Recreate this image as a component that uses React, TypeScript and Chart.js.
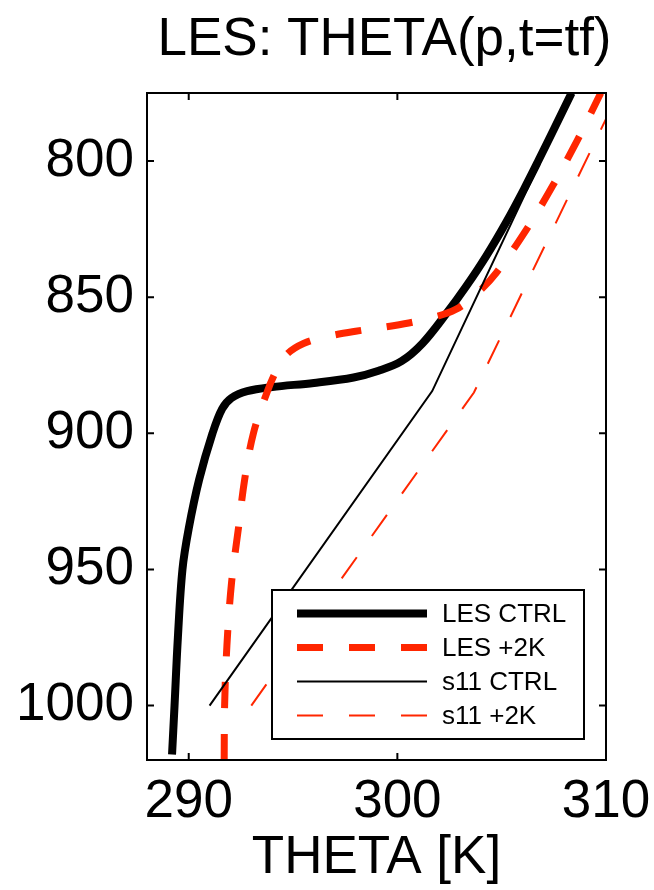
import { useEffect, useRef } from "react";
import { Chart, registerables } from "chart.js";

Chart.register(...registerables);

// Potential temperature profiles at the final time (pressure in hPa, theta in K)
const pressureLesCtrl = [1018, 1000, 975, 950, 935, 917, 900, 891, 887, 884.5, 883, 881.5, 879.5, 877, 873.5, 867, 856, 846, 835, 822, 810, 800, 788, 775];
const thetaLesCtrl = [289.2, 289.32, 289.48, 289.7, 290.0, 290.5, 291.14, 291.6, 292.05, 292.8, 294.0, 296.0, 297.9, 299.1, 300.2, 301.2, 302.35, 303.3, 304.25, 305.25, 306.09, 306.75, 307.52, 308.35];

const pressureLesWarm = [1020, 1000, 978, 955, 935, 917, 900, 885, 877, 871, 867, 864.5, 862.5, 860.5, 858, 854.5, 848, 841, 825, 809, 792, 775];
const thetaLesWarm = [291.7, 291.72, 291.83, 292.05, 292.38, 292.68, 293.1, 293.75, 294.2, 294.7, 295.5, 296.6, 298.0, 299.8, 301.4, 302.8, 303.9, 304.75, 306.2, 307.45, 308.65, 309.75];

const pressureS11Ctrl = [1000, 884.5, 775];
const thetaS11Ctrl = [291.0, 301.67, 308.4];

const pressureS11Warm = [1000, 885, 775];
const thetaS11Warm = [293.0, 303.67, 310.6];

const seriesLabels = ["LES CTRL", "LES +2K", "s11 CTRL", "s11 +2K"];
const xTicks = [290, 300, 310];
const yTicks = [800, 850, 900, 950, 1000];

const titleText = "LES: THETA(p,t=tf)";
const xTitleText = "THETA [K]";

const FONT = '"Liberation Sans", Arial, Helvetica, sans-serif';
const RED = "#ff2600";

const toPoints = (theta: number[], p: number[]) => theta.map((t, i) => ({ x: t, y: p[i] }));

// Box frame with inward ticks on all four sides, the boxed legend and the title
const decorPlugin = {
  id: "decor",
  afterDatasetsDraw(chart: any) {
    const { ctx, chartArea: ca, scales } = chart;
    const xs = scales.x;
    const ys = scales.y;
    ctx.save();

    // legend
    const boxW = 312;
    const boxH = 149;
    const bx = ca.right - 22 - boxW;
    const by = ca.bottom - 21 - boxH;
    ctx.fillStyle = "#ffffff";
    ctx.fillRect(bx, by, boxW, boxH);
    ctx.lineWidth = 2;
    ctx.strokeStyle = "#000";
    ctx.setLineDash([]);
    ctx.strokeRect(bx, by, boxW, boxH);
    ctx.font = `26px ${FONT}`;
    ctx.textAlign = "left";
    ctx.textBaseline = "middle";
    chart.data.datasets.forEach((ds: any, i: number) => {
      const ly = by + 23.5 + i * 34;
      const lx0 = bx + 25;
      const lx1 = lx0 + 130;
      ctx.save();
      ctx.beginPath();
      ctx.setLineDash(ds.borderDash || []);
      ctx.lineDashOffset = 0;
      ctx.lineCap = "butt";
      ctx.lineWidth = ds.borderWidth;
      ctx.strokeStyle = ds.borderColor;
      ctx.moveTo(lx0, ly);
      ctx.lineTo(lx1, ly);
      ctx.stroke();
      ctx.restore();
      ctx.fillStyle = "#000";
      ctx.fillText(ds.label, lx1 + 15, ly + 1);
    });

    // frame
    ctx.setLineDash([]);
    ctx.lineWidth = 2;
    ctx.strokeStyle = "#000";
    ctx.strokeRect(ca.left, ca.top, ca.right - ca.left, ca.bottom - ca.top);

    // inward ticks
    const tl = 7;
    ctx.beginPath();
    xTicks.forEach((v) => {
      const px = xs.getPixelForValue(v);
      ctx.moveTo(px, ca.bottom);
      ctx.lineTo(px, ca.bottom - tl);
      ctx.moveTo(px, ca.top);
      ctx.lineTo(px, ca.top + tl);
    });
    yTicks.forEach((v) => {
      const py = ys.getPixelForValue(v);
      ctx.moveTo(ca.left, py);
      ctx.lineTo(ca.left + tl, py);
      ctx.moveTo(ca.right, py);
      ctx.lineTo(ca.right - tl, py);
    });
    ctx.stroke();

    // title
    ctx.fillStyle = "#000";
    ctx.font = `53px ${FONT}`;
    ctx.textAlign = "center";
    ctx.textBaseline = "alphabetic";
    ctx.fillText(titleText, (ca.left + ca.right) / 2 + 8, 54.5);

    ctx.restore();
  },
};

export default function App() {
  const canvasRef = useRef<HTMLCanvasElement | null>(null);

  useEffect(() => {
    const canvas = canvasRef.current;
    if (!canvas) return;

    const chart = new Chart(canvas, {
      type: "line",
      data: {
        datasets: [
          {
            label: seriesLabels[0],
            data: toPoints(thetaLesCtrl, pressureLesCtrl),
            borderColor: "#000000",
            borderWidth: 8,
            tension: 0.35,
            borderJoinStyle: "round",
            order: 4,
          },
          {
            label: seriesLabels[1],
            data: toPoints(thetaLesWarm, pressureLesWarm),
            borderColor: RED,
            borderWidth: 7,
            borderDash: [26, 26],
            tension: 0.35,
            order: 3,
          },
          {
            label: seriesLabels[2],
            data: toPoints(thetaS11Ctrl, pressureS11Ctrl),
            borderColor: "#000000",
            borderWidth: 2,
            tension: 0,
            order: 2,
          },
          {
            label: seriesLabels[3],
            data: toPoints(thetaS11Warm, pressureS11Warm),
            borderColor: RED,
            borderWidth: 2,
            borderDash: [26, 26],
            tension: 0,
            order: 1,
          },
        ] as any,
      },
      options: {
        animation: false,
        responsive: false,
        devicePixelRatio: 1,
        layout: { padding: { top: 93, right: 48, left: 0, bottom: 0 } },
        elements: { point: { radius: 0, hoverRadius: 0 } },
        plugins: {
          legend: { display: false },
          title: { display: false },
          tooltip: { enabled: false },
        },
        events: [],
        scales: {
          x: {
            type: "linear",
            min: 288,
            max: 310,
            grid: { display: false, drawTicks: false },
            border: { display: false },
            afterBuildTicks: (scale: any) => {
              scale.ticks = xTicks.map((v) => ({ value: v }));
            },
            afterFit: (scale: any) => {
              scale.height = 130;
              scale.paddingLeft = 0;
              scale.paddingRight = 0;
            },
            ticks: {
              color: "#000",
              padding: 11,
              maxRotation: 0,
              autoSkip: false,
              callback: (v: any) => String(v),
              font: { family: FONT, size: 53, lineHeight: 1.2 },
            },
            title: {
              display: true,
              text: xTitleText,
              color: "#000",
              padding: 0,
              font: { family: FONT, size: 53, lineHeight: 1.2 },
            },
          },
          y: {
            type: "linear",
            reverse: true,
            min: 775,
            max: 1020,
            grid: { display: false, drawTicks: false },
            border: { display: false },
            afterBuildTicks: (scale: any) => {
              scale.ticks = yTicks.map((v) => ({ value: v }));
            },
            afterFit: (scale: any) => {
              scale.width = 147;
              scale.paddingTop = 0;
              scale.paddingBottom = 0;
            },
            ticks: {
              color: "#000",
              padding: 13,
              autoSkip: false,
              callback: (v: any) => String(v),
              font: { family: FONT, size: 53, lineHeight: 1.2 },
            },
          },
        },
      } as any,
      plugins: [decorPlugin],
    });

    return () => chart.destroy();
  }, []);

  return (
    <div style={{ position: "fixed", left: 0, top: 0, width: 654, height: 890, background: "#fff" }}>
      <canvas ref={canvasRef} width={654} height={890} style={{ display: "block" }} />
    </div>
  );
}
